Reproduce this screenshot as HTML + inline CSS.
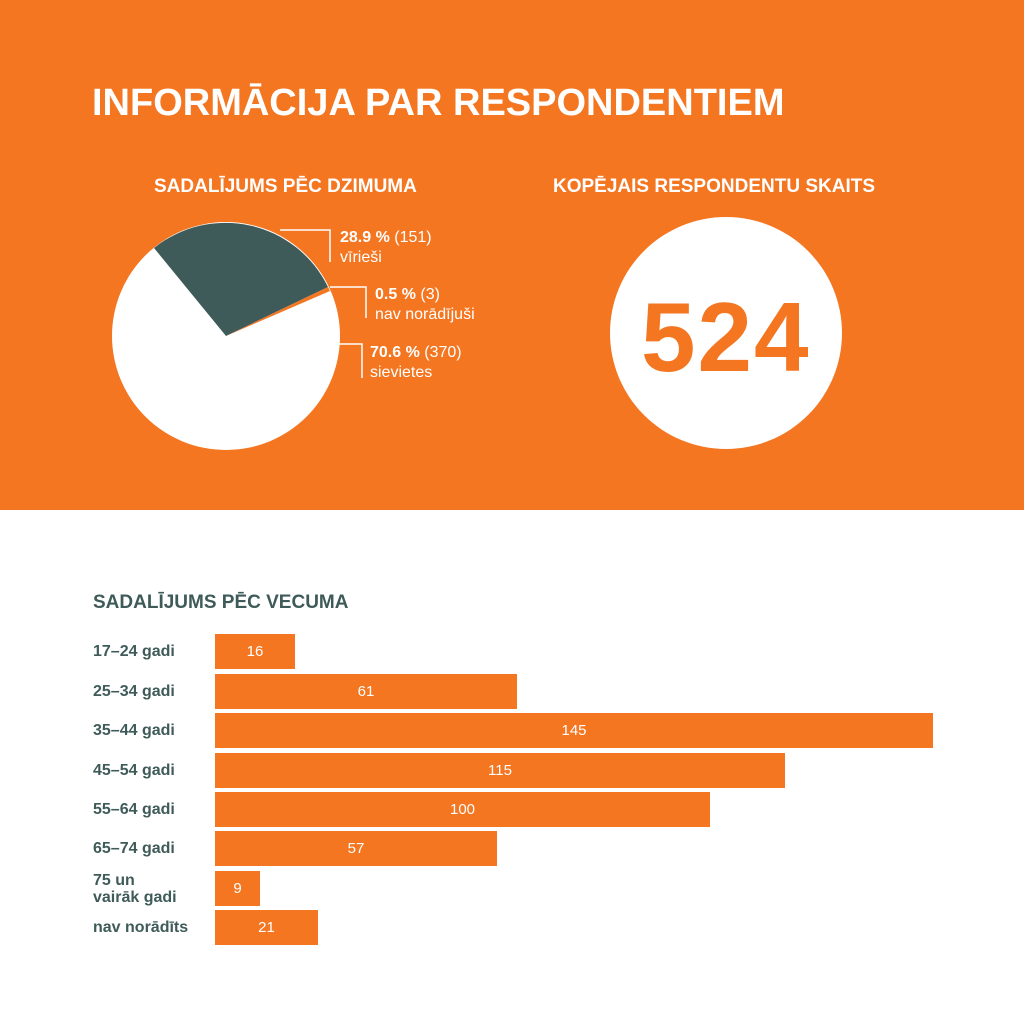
<!DOCTYPE html>
<html><head><meta charset="utf-8"><style>
body{margin:0;width:1024px;height:1024px;position:relative;background:#fff;font-family:"Liberation Sans","DejaVu Sans",sans-serif;overflow:hidden}
.top{position:absolute;left:0;top:0;width:1024px;height:510px;background:#F47621}
.t{position:absolute;white-space:nowrap}
.lbl{position:absolute;left:93px;font-size:16px;font-weight:bold;color:#3F5B59;line-height:17px}
.bar{position:absolute;left:215px;height:35px;background:#F47621;color:#fff;font-size:15px;line-height:35px;text-align:center}
</style></head><body>
<div class="top"></div>
<div class="t" style="left:92px;top:82px;font-size:38px;font-weight:bold;color:#fff">INFORMĀCIJA PAR RESPONDENTIEM</div>
<div class="t" style="left:154px;top:176px;font-size:19px;font-weight:bold;color:#fff">SADALĪJUMS PĒC DZIMUMA</div>
<div class="t" style="left:553px;top:176px;font-size:19px;font-weight:bold;color:#fff">KOPĒJAIS RESPONDENTU SKAITS</div>
<svg style="position:absolute;left:0;top:0" width="1024" height="510">
<circle cx="226" cy="336" r="114" fill="#fff"/>
<path d="M226 336 L154 248 A114 114 0 0 1 328 287 Z" fill="#3F5B59"/>
<path d="M226 336 L328 287 A114 114 0 0 1 330 291 Z" fill="#F47621"/>
<g stroke="#fff" stroke-width="1.5" fill="none">
<polyline points="280,230 330,230 330,262"/>
<polyline points="330,287 366,287 366,318"/>
<polyline points="336,344 362,344 362,378"/>
</g>
<circle cx="726" cy="333" r="116" fill="#fff"/>
</svg>
<div class="t" style="left:340px;top:228px;font-size:16px;color:#fff;line-height:20px"><b>28.9 %</b> (151)<br>vīrieši</div>
<div class="t" style="left:375px;top:285px;font-size:16px;color:#fff;line-height:20px"><b>0.5 %</b> (3)<br>nav norādījuši</div>
<div class="t" style="left:370px;top:343px;font-size:16px;color:#fff;line-height:20px"><b>70.6 %</b> (370)<br>sievietes</div>
<div class="t" style="left:641px;top:282px;font-size:98px;font-weight:bold;color:#F47621;letter-spacing:2px;line-height:110px">524</div>
<div class="t" style="left:93px;top:592px;font-size:19px;font-weight:bold;color:#3F5B59">SADALĪJUMS PĒC VECUMA</div>
<div class="lbl" style="top:643px">17–24 gadi</div>
<div class="lbl" style="top:683px">25–34 gadi</div>
<div class="lbl" style="top:722px">35–44 gadi</div>
<div class="lbl" style="top:762px">45–54 gadi</div>
<div class="lbl" style="top:801px">55–64 gadi</div>
<div class="lbl" style="top:840px">65–74 gadi</div>
<div class="lbl" style="top:872px">75 un<br>vairāk gadi</div>
<div class="lbl" style="top:919px">nav norādīts</div>
<div class="bar" style="top:634px;width:80px">16</div>
<div class="bar" style="top:674px;width:302px">61</div>
<div class="bar" style="top:713px;width:718px">145</div>
<div class="bar" style="top:753px;width:570px">115</div>
<div class="bar" style="top:792px;width:495px">100</div>
<div class="bar" style="top:831px;width:282px">57</div>
<div class="bar" style="top:871px;width:45px">9</div>
<div class="bar" style="top:910px;width:103px">21</div>
</body></html>
